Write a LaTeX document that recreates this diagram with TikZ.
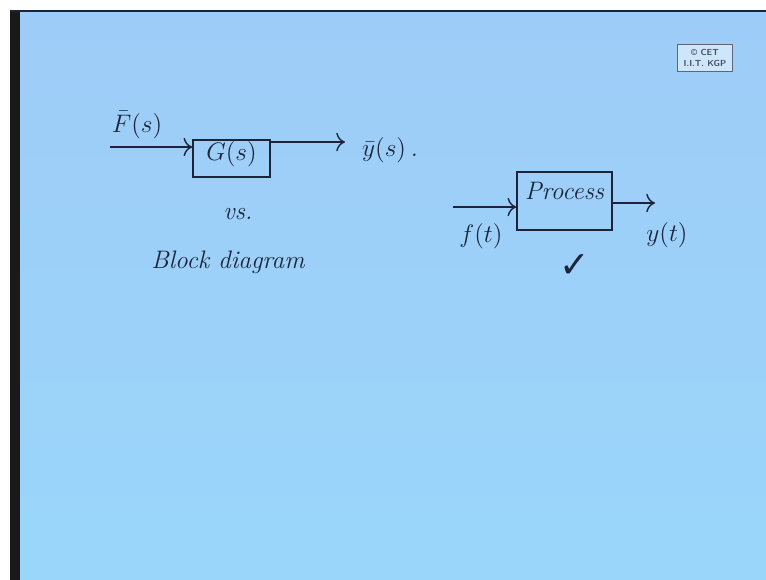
\documentclass[tikz,border=0pt]{standalone}
\usepackage{fontspec}
\newfontfamily\symfont{DejaVu Sans}
\usetikzlibrary{arrows.meta}
\definecolor{board}{RGB}{158,204,248}
\definecolor{boardlow}{RGB}{154,214,250}
\definecolor{ink}{RGB}{28,36,58}

\begin{document}
\begin{tikzpicture}[x=0.02cm, y=-0.02cm,
		blk/.style={draw=ink, thick, inner sep=0pt, text=ink, font=\Large\itshape, text height=10pt},
		lbl/.style={text=ink, font=\Large\itshape, inner sep=1pt},
		sig/.style={draw=ink, thick, -{To[length=5pt]}}]
			% Lavagna
			\fill[white] (0,0) rectangle (766,580);
			\shade[top color=board, bottom color=boardlow] (20,12) rectangle (766,580);
			\fill[black!90] (10,10) rectangle (20,580);
			\fill[ink] (10,10) rectangle (766,12);
			\node[draw=ink!70, fill=board!50, text=ink!80, font=\sffamily\tiny\bfseries, align=center, inner sep=1pt, minimum width=1.1cm, minimum height=0.54cm] (logo) at (705,58) {\copyright\ CET\\I.I.T. KGP};
			
			% Blocchi
			\node[blk, minimum width=1.54cm, minimum height=0.74cm, text depth=8pt] (G) at (231.5,158.5) {$G(s)$};
			\node[blk, minimum width=1.9cm, minimum height=1.16cm, text depth=12pt] (P) at (564.5,201) {Process};
			
			% Etichette
			\node[lbl] (Fs) at (137,125) {$\bar F(s)$};
			\node[lbl] (ys) at (390,150) {$\bar y(s)$\,.};
			\node[lbl] (vs) at (238,214) {vs.};
			\node[lbl] (bd) at (228,262) {Block diagram};
			\node[lbl] (ft) at (481,236) {$f(t)$};
			\node[lbl] (yt) at (667,235) {$y(t)$};
			\node[text=ink, font=\symfont\huge] (ok) at (575,266) {✓};
			
			% Frecce
			\coordinate (in1) at (110,147);
			\coordinate (out1) at (345,142);
			\coordinate (in2) at (453,207);
			\coordinate (out2) at (655,203);
			\draw[sig] (in1) -- (in1 -| G.west);
			\draw[sig] (out1 -| G.east) -- (out1);
			\draw[sig] (in2) -- (in2 -| P.west);
			\draw[sig] (out2 -| P.east) -- (out2);
		\end{tikzpicture}
\end{document}
